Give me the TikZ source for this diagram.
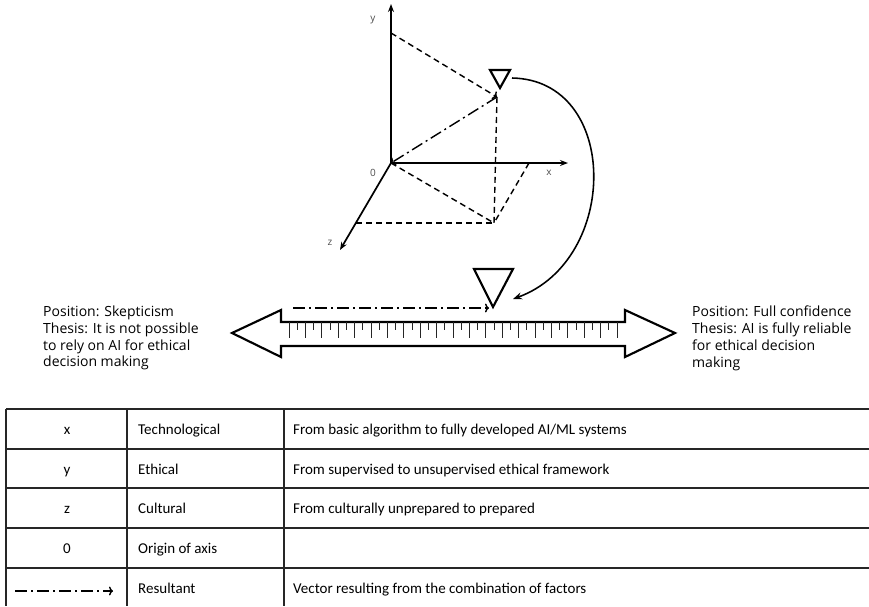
\documentclass[tikz,border=0pt]{standalone}
\usepackage{fontspec}
\setmainfont{Open Sans}
\newfontfamily\tablefont{Carlito}
\usetikzlibrary{arrows.meta,calc}

\begin{document}
\begin{tikzpicture}[x=1pt,y=-1pt]
      \newcommand{\posfont}[0]{\fontsize{14}{16.7}\selectfont}
      \newcommand{\rowfont}[0]{\fontsize{15}{17}\selectfont\tablefont}
      \newcommand{\axisfont}[0]{\fontsize{10}{12}\selectfont}

      \tikzstyle{axis}      = [line width=0.6mm, -{Stealth[length=8pt,width=6pt]}]
      \tikzstyle{guide}     = [line width=0.5mm, dash pattern=on 6pt off 4pt]
      \tikzstyle{resultant} = [line width=0.5mm, dash pattern=on 12pt off 4pt on 2pt off 4pt, -{To[length=4pt,width=9pt]}]
      \tikzstyle{marker}    = [line width=0.75mm, line join=miter]
      \tikzstyle{connector} = [line width=0.55mm, -{Stealth[length=9pt,width=7pt]}]
      \tikzstyle{axislabel} = [text=black!70, font=\axisfont, inner sep=0pt]
      \tikzstyle{position}  = [align=left, anchor=north west, inner sep=0pt, font=\posfont]
      \tikzstyle{cell}      = [anchor=base west, inner sep=0pt, font=\rowfont]
      \tikzstyle{tableline} = [line width=0.4mm, black!85]

      \useasboundingbox (0,0) rectangle (869,606);

      % axes
      \coordinate (O)  at (391,163);
      \coordinate (Y0) at (391,33);
      \coordinate (X0) at (529,163);
      \coordinate (Z0) at (356,223);
      \coordinate (P)  at (497,97);
      \coordinate (Q)  at (494,223);

      \draw [axis] (O) -- (391,4)   coordinate (ytip);
      \draw [axis] (O) -- (568,163) coordinate (xtip);
      \draw [axis] (O) -- (340,250) coordinate (ztip);

      \node [axislabel] (ylabel) at (373,20)  {y};
      \node [axislabel] (olabel) at (373,173) {0};
      \node [axislabel] (xlabel) at (549,173) {x};
      \node [axislabel] (zlabel) at (330,243) {z};

      % projections
      \draw [guide, -{To[length=4pt,width=9pt]}] (Y0) -- (P);
      \draw [guide] (P)  -- (Q);
      \draw [guide] (O)  -- (Q);
      \draw [guide] (X0) -- (Q);
      \draw [guide] (Z0) -- (Q);
      \draw [resultant] (P) -- (O);

      % markers
      \draw [marker] (490,70) -- (510,70) -- (500,88) -- cycle;
      \coordinate (smallmark) at (512,78);
      \draw [marker] (474,269) -- (513,269) -- (493,307) -- cycle;
      \coordinate (bigmark) at (513,299);

      \draw [connector] (smallmark) .. controls (620,80) and (620,260) .. (bigmark);

      % scale
      \draw [line width=0.75mm, line join=miter]
        (232,333) -- (281,310) -- (281,322) -- (625,322) -- (625,310) -- (675,333)
        -- (625,357) -- (625,346) -- (281,346) -- (281,357) -- cycle;
      \foreach \i in {0,...,40} {
        \pgfmathsetmacro{\tx}{289+8.2*\i}
        \pgfmathsetmacro{\tl}{ifthenelse(mod(\i,2)==0,338,330)}
        \draw [line width=0.35mm, black!85] (\tx,322) -- (\tx,\tl);
      }
      \coordinate (resstart) at (293,308);
      \coordinate (resend)   at (489,308);
      \draw [resultant] (resstart) -- (resend);

      \node [position] (left)  at (43,306)  {Position: Skepticism\\Thesis: It is not possible\\to rely on AI for ethical\\decision making};
      \node [position] (right) at (692,306) {Position: Full confidence\\Thesis: AI is fully reliable\\for ethical decision\\making};

      % table
      \foreach \ty in {409,449,488,528,568}
        \draw [tableline] (6,\ty) -- (869,\ty);
      \foreach \tx in {6,127,284}
        \draw [tableline] (\tx,409) -- (\tx,606);

      \node [cell, anchor=base] (symx) at (67,434) {x};
      \node [cell, anchor=base] (symy) at (67,474) {y};
      \node [cell, anchor=base] (symz) at (67,513) {z};
      \node [cell, anchor=base] (symo) at (67,553) {0};
      \coordinate (legstart) at (15,591);
      \coordinate (legend)   at (113,591);
      \draw [resultant] (legstart) -- (legend);

      \node [cell] (namex) at (138,434) {Technological};
      \node [cell] (namey) at (138,474) {Ethical};
      \node [cell] (namez) at (138,513) {Cultural};
      \node [cell] (nameo) at (138,553) {Origin of axis};
      \node [cell] (namer) at (138,593) {Resultant};

      \node [cell] (descx) at (293,434) {From basic algorithm to fully developed AI/ML systems};
      \node [cell] (descy) at (293,474) {From supervised to unsupervised ethical framework};
      \node [cell] (descz) at (293,513) {From culturally unprepared to prepared};
      \node [cell] (descr) at (293,593) {Vector resulting from the combination of factors};
    \end{tikzpicture}
\end{document}
